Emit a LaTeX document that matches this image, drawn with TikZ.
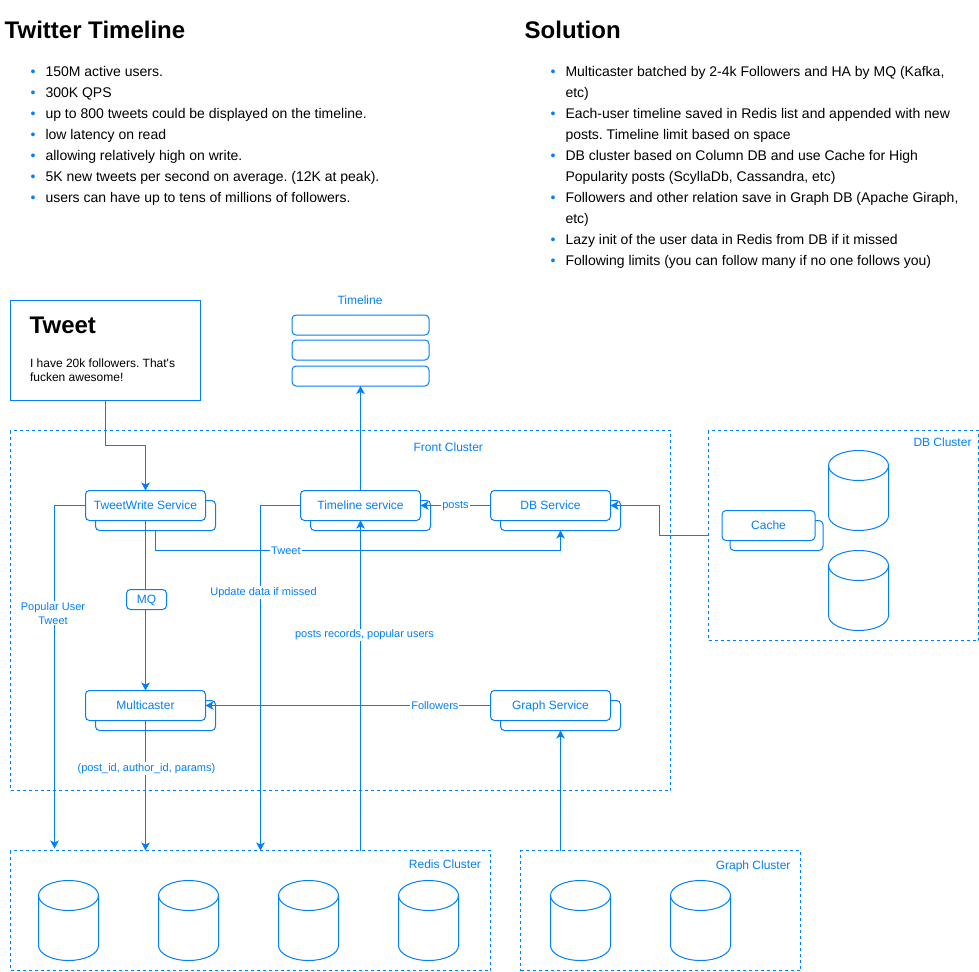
\documentclass[tikz,border=0pt]{standalone}
\usepackage{xcolor}
\usepackage{fontspec}
\setmainfont{Liberation Sans}
\usetikzlibrary{arrows.meta}

\definecolor{flowblue}{HTML}{007FFF}
\newcommand{\listdot}{\llap{\textcolor{flowblue}{\textbullet}\hspace{10pt}}}
\frenchspacing

\tikzset{
  service/.style={rectangle,rounded corners=4pt,draw=flowblue,fill=white,outer sep=0pt,inner sep=0pt,
    minimum width=120pt,minimum height=30pt,text=flowblue,text height=8.7pt,text depth=0pt,
    font=\fontsize{12}{14}\selectfont},
  cachebox/.style={service,minimum width=93pt},
  bar/.style={service,minimum width=137pt,minimum height=20pt},
  cluster/.style={rectangle,draw=flowblue,dash pattern=on 3pt off 3pt,outer sep=0pt,inner sep=0pt},
  title/.style={anchor=west,inner sep=0pt,font=\fontsize{24}{28}\bfseries\selectfont},
  bullets/.style={anchor=north west,inner sep=0pt,align=left,font=\fontsize{14}{21}\selectfont},
  caption/.style={inner sep=0pt,text=flowblue,font=\fontsize{12}{14}\selectfont},
  edgelabel/.style={fill=white,inner sep=1pt,align=center,text=flowblue,font=\fontsize{11}{14}\selectfont},
  flow/.style={draw=flowblue,-{Stealth[length=8pt,width=8.5pt,inset=2pt]}},
  wire/.style={draw=flowblue},
  dbcyl/.pic={
    \draw[flowblue] (0,-25) ellipse [x radius=30,y radius=15];
    \draw[flowblue] (-30,-25) -- (-30,25) .. controls (-30,33.3) and (-16.6,40) .. (0,40)
      .. controls (16.6,40) and (30,33.3) .. (30,25) -- (30,-25);
  }
}

\begin{document}
\begin{tikzpicture}[x=1pt,y=-1pt,line width=1pt]
\useasboundingbox (0,0) rectangle (979,971);
\node [title] (lefthead) at (4.2,30) {Twitter Timeline};
\node [title] (righthead) at (524.2,30) {Solution};
\node [bullets] (leftlist) at (45,66) {\listdot 150M active users.\\
\listdot 300K QPS\\
\listdot up to 800 tweets could be displayed on the timeline.\\
\listdot low latency on read\\
\listdot allowing relatively high on write.\\
\listdot 5K new tweets per second on average. (12K at peak).\\
\listdot users can have up to tens of millions of followers.};
\node [bullets] (rightlist) at (565,66) {\listdot Multicaster batched by 2-4k Followers and HA by MQ (Kafka,\\
etc)\\
\listdot Each-user timeline saved in Redis list and appended with new\\
posts. Timeline limit based on space\\
\listdot DB cluster based on Column DB and use Cache for High\\
Popularity posts (ScyllaDb, Cassandra, etc)\\
\listdot Followers and other relation save in Graph DB (Apache Giraph,\\
etc)\\
\listdot Lazy init of the user data in Redis from DB if it missed\\
\listdot Following limits (you can follow many if no one follows you)};

% clusters
\node [cluster,minimum width=660pt,minimum height=360pt] (frontcluster) at (340.5,610.5) {};
\node [cluster,minimum width=270pt,minimum height=210pt] (dbcluster) at (843.5,535.5) {};
\node [cluster,minimum width=480pt,minimum height=120pt] (rediscluster) at (250.5,910.5) {};
\node [cluster,minimum width=280pt,minimum height=120pt] (graphcluster) at (660.5,910.5) {};
\node [caption] (frontcaption) at (448.3,447) {Front Cluster};
\node [caption,anchor=east] (dbcaption) at (972,442) {DB Cluster};
\node [caption,anchor=east] (rediscaption) at (481.5,864) {Redis Cluster};
\node [caption,anchor=east] (graphcaption) at (791,866) {Graph Cluster};

% tweet
\node [rectangle,draw=flowblue,outer sep=0pt,minimum width=190pt,minimum height=100pt] (tweetbox) at (105.5,350.5) {};
\node [title] (tweethead) at (29.2,325) {Tweet};
\node [anchor=north west,inner sep=0pt,align=left,font=\fontsize{12}{14}\selectfont] (tweettext) at (29.5,358) {I have 20k followers. That\textquotesingle s\\fucken awesome!};

% timeline
\node [caption] (timelinecaption) at (360,300) {Timeline};
\node [bar] (barone) at (360.5,325) {};
\node [bar] (bartwo) at (360.5,350) {};
\node [bar] (barthree) at (360.5,376) {};

% services
\node [service] (writeback) at (155.5,515.5) {};
\node [service] (tweetwrite) at (145.5,505.5) {TweetWrite Service};
\node [service] (timelineback) at (370.5,515.5) {};
\node [service] (timelineservice) at (360.5,505.5) {Timeline service};
\node [service] (dbback) at (560.5,515.5) {};
\node [service] (dbservice) at (550.5,505.5) {DB Service};
\node [service] (multiback) at (155.5,715.5) {};
\node [service] (multicaster) at (145.5,705.5) {Multicaster};
\node [service] (graphback) at (560.5,715.5) {};
\node [service] (graphservice) at (550.5,705.5) {Graph Service};
\node [service,minimum width=40pt,minimum height=20pt] (mq) at (146.5,599.5) {MQ};
\node [cachebox] (cacheback) at (776.5,535.5) {};
\node [cachebox] (cache) at (768.5,525.5) {Cache};

% storage
\pic (dbone) at (858.5,490.5) {dbcyl};
\pic (dbtwo) at (858.5,590.5) {dbcyl};
\pic (redisone) at (68.5,920.5) {dbcyl};
\pic (redistwo) at (188.5,920.5) {dbcyl};
\pic (redisthree) at (308.5,920.5) {dbcyl};
\pic (redisfour) at (428.5,920.5) {dbcyl};
\pic (graphone) at (580.5,920.5) {dbcyl};
\pic (graphtwo) at (700.5,920.5) {dbcyl};

\coordinate (popularend) at (54.5,848.5);
\coordinate (missedend) at (260.5,850.5);

\draw (tweetbox.south)[flow] -- ++(0,45) -| (tweetwrite.north);
\draw (tweetwrite.west)[flow] -| node[edgelabel,pos=.657,xshift=-1.5pt] (popularlabel) {Popular User\\Tweet} (popularend);
\draw (tweetwrite.south)[wire] -- (tweetwrite.south |- mq.north);
\draw (tweetwrite.south |- mq.south)[flow] -- (multicaster.north);
\draw (multicaster.south)[flow] -- node[edgelabel,pos=.37,xshift=1pt] (paramslabel) {(post\_id, author\_id, params)} (multicaster.south |- rediscluster.north);
\draw (writeback.south)[flow] -- ++(0,20) -| node[edgelabel,pos=.161] (tweetlabel) {Tweet} (dbback.south);
\draw (timelineservice.west)[flow] -| node[edgelabel,pos=.626,xshift=3pt] (missedlabel) {Update data if missed} (missedend);
\draw (timelineservice.south |- rediscluster.north)[flow] -- node[edgelabel,pos=.653,xshift=4pt] (recordslabel) {posts records, popular users} (timelineservice.south);
\draw (timelineservice.north)[flow] -- (barthree.south);
\draw (dbservice.west)[flow] -- node[edgelabel,yshift=-.5pt] (postslabel) {posts} (timelineservice.east);
\draw (dbcluster.west)[flow] -- ++(-49,0) |- (dbservice.east);
\draw (graphservice.west)[flow] -- node[edgelabel,pos=.195] (followerslabel) {Followers} (multicaster.east);
\draw (graphback.south |- graphcluster.north)[flow] -- (graphback.south);
\end{tikzpicture}
\end{document}
